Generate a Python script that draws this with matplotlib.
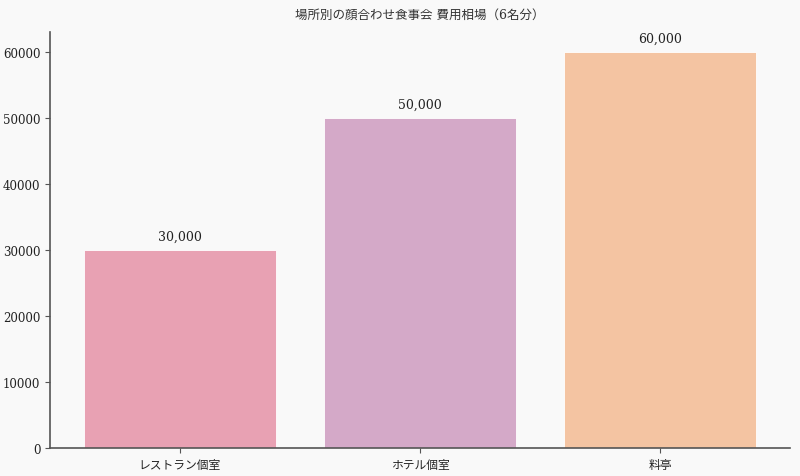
import matplotlib
matplotlib.use("Agg")
from matplotlib import pyplot as plt

# data
places = ["レストラン個室", "ホテル個室", "料亭"]
costs = [30000, 50000, 60000]
value_labels = ["30,000", "50,000", "60,000"]
bar_colors = ["#E8A1B3", "#D4A9C8", "#F4C4A2"]

plt.rcParams['font.family'] = ['DejaVu Serif', 'Noto Sans CJK JP', 'DejaVu Sans']

fig = plt.figure(figsize=(8, 4.77), dpi=100, facecolor="#f9f9f9")
ax = fig.add_axes([0.0625, 0.0587, 0.925, 0.872])
ax.set_facecolor("#f9f9f9")

bars = ax.bar(places, costs, width=0.8, color=bar_colors, edgecolor="#ffffff", linewidth=0.6)

# value labels above bars
for b, lab in zip(bars, value_labels):
    ax.annotate(lab, (b.get_x() + b.get_width() / 2, b.get_height()),
                xytext=(0, 5), textcoords="offset points",
                ha="center", va="bottom", fontsize=9, color="#222222")

ax.set_ylim(0, 63000)
ax.set_title("場所別の顔合わせ食事会 費用相場（6名分）", fontsize=9, color="#333333", pad=10)

for s in ["top", "right"]:
    ax.spines[s].set_visible(False)
for s in ["left", "bottom"]:
    ax.spines[s].set_color("#555555")
    ax.spines[s].set_linewidth(1.2)
ax.tick_params(colors="#222222", labelsize=8.5)
ax.tick_params(axis="both", color="#555555")

fig.savefig("out.png", dpi=100, facecolor=fig.get_facecolor())
